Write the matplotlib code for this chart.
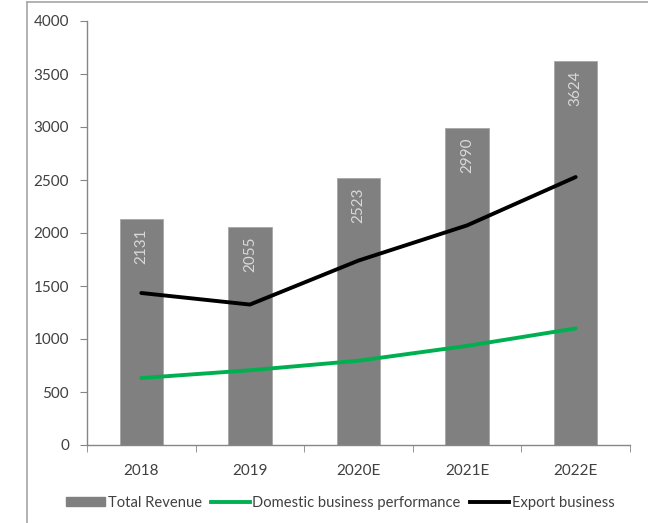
import matplotlib
matplotlib.use("Agg")
import matplotlib.pyplot as plt
from matplotlib.lines import Line2D
import numpy as np

plt.rcParams['font.family'] = ['Lato', 'DejaVu Sans']

categories = ["2018", "2019", "2020E", "2021E", "2022E"]
total_revenue = [2131, 2055, 2523, 2990, 3624]
domestic = [632, 705, 795, 935, 1100]
export = [1434, 1325, 1740, 2072, 2528]

fig = plt.figure(figsize=(6.48, 5.23), dpi=100)
ax = fig.add_axes([87/648, 1-445/523, (630-87)/648, (445-21)/523])

x = np.arange(len(categories))
ax.bar(x, total_revenue, width=0.4, color="#808080", edgecolor="#a6a6a6", linewidth=0.6, zorder=2,
       label="Total Revenue")
for xi, v in zip(x, total_revenue):
    ax.text(xi, v - 90, str(v), rotation=90, ha="center", va="top", color="#d9d9d9", fontsize=11, zorder=3)

ax.plot(x, domestic, color="#00b050", linewidth=2.8, zorder=4, label="Domestic business performance",
        solid_capstyle="round")
ax.plot(x, export, color="#000000", linewidth=2.8, zorder=4, label="Export business", solid_capstyle="round")

ax.set_xlim(-0.5, 4.5)
ax.set_ylim(0, 4000)
ax.set_yticks(np.arange(0, 4001, 500))
ax.set_xticks(x)
ax.set_xticklabels(categories)
ax.set_xticks(np.arange(-0.5, 4.51, 1), minor=True)
ax.tick_params(axis="x", which="major", length=0, pad=14, labelsize=11, labelcolor="#404040")
ax.tick_params(axis="x", which="minor", length=5, color="#868686", direction="out")
ax.tick_params(axis="y", length=5, color="#868686", labelsize=11, labelcolor="#404040", pad=8)

for s in ["top", "right"]:
    ax.spines[s].set_visible(False)
for s in ["left", "bottom"]:
    ax.spines[s].set_color("#868686")
    ax.spines[s].set_linewidth(1.0)

handles = [
    plt.Rectangle((0, 0), 1, 1, color="#808080"),
    Line2D([0], [0], color="#00b050", linewidth=2.8),
    Line2D([0], [0], color="#000000", linewidth=2.8),
]
labels = ["Total Revenue", "Domestic business performance", "Export business"]
fig.legend(handles, labels, loc="center", bbox_to_anchor=(340/648, 1-503/523), ncol=3, frameon=False,
           fontsize=10.6, handlelength=2.7, handleheight=0.6, handletextpad=0.15, columnspacing=0.6,
           labelcolor="#404040")

# figure border lines
fig.add_artist(Line2D([27/648, 27/648], [0, 1-2/523], transform=fig.transFigure, color="#a6a6a6", linewidth=1.2))
fig.add_artist(Line2D([27/648, 1], [1-2/523, 1-2/523], transform=fig.transFigure, color="#a6a6a6", linewidth=1.2))

fig.savefig("out.png", dpi=100)
